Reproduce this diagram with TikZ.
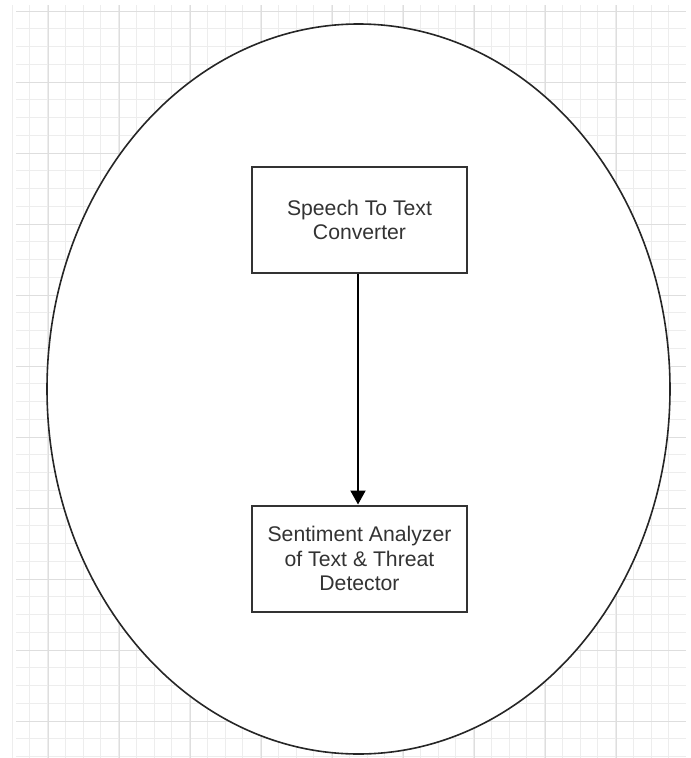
\documentclass[tikz,border=0pt]{standalone}
\usepackage{fontspec}
\setmainfont{Liberation Sans}
\usetikzlibrary{arrows.meta}
\begin{document}
\begin{tikzpicture}[x=1pt,y=-1pt,
  minorgrid/.style={draw=black!7,line width=0.8pt},
  majorgrid/.style={draw=black!13,line width=0.9pt},
  procbox/.style={draw=black!80,line width=2pt,fill=white,minimum width=215pt,minimum height=106pt,
    align=center,font=\fontsize{21.2}{24.5}\selectfont,text=black!80,inner sep=0pt},
  flow/.style={draw=black,line width=2pt,-{Triangle[length=14pt,width=15pt]}}]
\useasboundingbox (0,0) rectangle (691,758);
\fill[white] (0,0) rectangle (691,758);
% grid
\foreach \i in {0,...,37} {
  \pgfmathsetmacro{\xx}{12+17.75*\i}
  \ifdim\xx pt<686pt \draw[minorgrid] (\xx,5) -- (\xx,758);\fi
}
\foreach \i in {0,...,42} {
  \pgfmathsetmacro{\yy}{11+17.75*\i}
  \ifdim\yy pt<758pt \draw[minorgrid] (16,\yy) -- (686,\yy);\fi
}
\foreach \i in {0,...,9} {
  \pgfmathsetmacro{\xx}{48+71*\i}
  \ifdim\xx pt<686pt \draw[majorgrid] (\xx,5) -- (\xx,758);\fi
}
\foreach \i in {0,...,10} {
  \pgfmathsetmacro{\yy}{11+71*\i}
  \ifdim\yy pt<758pt \draw[majorgrid] (16,\yy) -- (686,\yy);\fi
}
% ellipse
\draw[black!85,line width=1.6pt,fill=white] (358.5,389) ellipse [x radius=311.5, y radius=365];
\node[procbox] (stt) at (359.5,220) {Speech To Text\\Converter};
\node[procbox] (sat) at (359.5,558.5) {Sentiment Analyzer\\of Text \& Threat\\Detector};
\draw[flow] (stt.south -| 358,0) -- (sat.north -| 358,0);
\end{tikzpicture}
\end{document}
